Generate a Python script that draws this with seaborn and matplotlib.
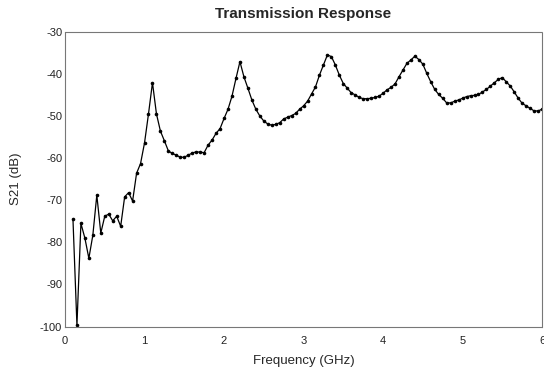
import pandas as pd
import matplotlib
matplotlib.use("Agg")
import matplotlib.pyplot as plt
import seaborn as sns

freq = [0.10, 0.15, 0.20, 0.25, 0.30, 0.35, 0.40, 0.45, 0.50, 0.55,
        0.60, 0.65, 0.70, 0.75, 0.80, 0.85, 0.90, 0.95, 1.00, 1.05,
        1.10, 1.15, 1.20, 1.25, 1.30, 1.35, 1.40, 1.45, 1.50, 1.55,
        1.60, 1.65, 1.70, 1.75, 1.80, 1.85, 1.90, 1.95, 2.00, 2.05,
        2.10, 2.15, 2.20, 2.25, 2.30, 2.35, 2.40, 2.45, 2.50, 2.55,
        2.60, 2.65, 2.70, 2.75, 2.80, 2.85, 2.90, 2.95, 3.00, 3.05,
        3.10, 3.15, 3.20, 3.25, 3.30, 3.35, 3.40, 3.45, 3.50, 3.55,
        3.60, 3.65, 3.70, 3.75, 3.80, 3.85, 3.90, 3.95, 4.00, 4.05,
        4.10, 4.15, 4.20, 4.25, 4.30, 4.35, 4.40, 4.45, 4.50, 4.55,
        4.60, 4.65, 4.70, 4.75, 4.80, 4.85, 4.90, 4.95, 5.00, 5.05,
        5.10, 5.15, 5.20, 5.25, 5.30, 5.35, 5.40, 5.45, 5.50, 5.55,
        5.60, 5.65, 5.70, 5.75, 5.80, 5.85, 5.90, 5.95, 6.00]
s21 = [-74.5, -99.7, -75.5, -79.0, -83.8, -78.3, -68.8, -77.8, -73.8, -73.3,
       -74.9, -73.8, -76.2, -69.2, -68.2, -70.2, -63.6, -61.3, -56.4, -49.5,
       -42.1, -49.5, -53.6, -55.9, -58.3, -58.9, -59.3, -59.8, -59.8, -59.3,
       -58.8, -58.5, -58.6, -58.7, -56.9, -55.7, -54.1, -53.0, -50.6, -48.4,
       -45.3, -41.1, -37.1, -40.7, -43.4, -46.2, -48.4, -50.0, -51.2, -51.9,
       -52.2, -52.0, -51.6, -50.7, -50.3, -49.9, -49.4, -48.4, -47.6, -46.5,
       -44.8, -43.1, -40.3, -37.9, -35.5, -35.9, -37.9, -40.3, -42.3, -43.4,
       -44.5, -45.0, -45.6, -45.9, -45.9, -45.8, -45.6, -45.3, -44.6, -43.8,
       -43.2, -42.4, -40.7, -39.1, -37.5, -36.7, -35.8, -36.6, -37.7, -39.9,
       -41.9, -43.7, -44.9, -45.8, -46.9, -46.9, -46.5, -46.2, -45.8, -45.4,
       -45.2, -45.1, -44.9, -44.3, -43.7, -42.9, -42.1, -41.3, -40.9, -41.9,
       -42.9, -44.3, -45.8, -47.0, -47.6, -48.2, -48.8, -48.8, -48.4]

x_ticks = [0, 1, 2, 3, 4, 5, 6]
y_ticks = [-100, -90, -80, -70, -60, -50, -40, -30]

df = pd.DataFrame({"Frequency": freq, "S21": s21})

sns.set_style("white")
plt.rcParams["font.family"] = ["Liberation Sans", "DejaVu Sans"]
plt.rcParams["axes.unicode_minus"] = False

fig = plt.figure(figsize=(5.44, 3.69), dpi=100)
ax = fig.add_axes([0.1195, 0.115, 0.877, 0.799])

sns.lineplot(data=df, x="Frequency", y="S21", ax=ax, color="black",
             linewidth=0.9, marker="o", markersize=2.6, markeredgewidth=0)

ax.set_xlim(0, 6)
ax.set_ylim(-100, -30)
ax.set_xticks(x_ticks)
ax.set_yticks(y_ticks)
ax.tick_params(labelsize=8, length=0, colors="#222222")
ax.tick_params(axis="x", pad=7)
ax.tick_params(axis="y", pad=2)

# dotted frame like the scanned plot
for sp in ax.spines.values():
    sp.set_linestyle((0, (1, 1)))
    sp.set_color("#777777")
    sp.set_linewidth(0.8)

ax.set_title("Transmission Response", fontsize=11, fontweight="bold", pad=10)
ax.set_xlabel("Frequency (GHz)", fontsize=9.5, labelpad=6)
ax.set_ylabel("S21 (dB)", fontsize=9.5, labelpad=13)

fig.savefig("out.png", dpi=100)
